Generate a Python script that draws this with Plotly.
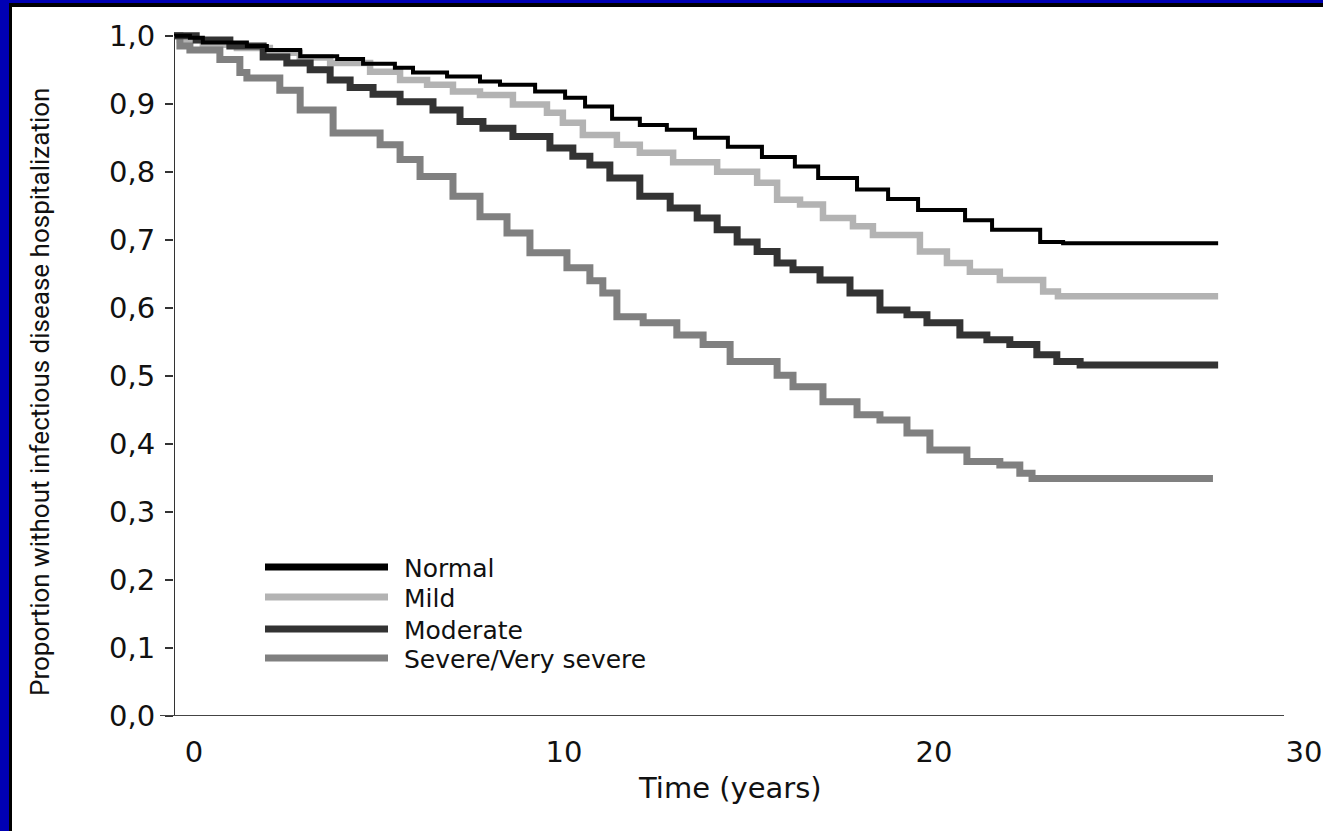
import plotly.graph_objects as go

# Kaplan-Meier style step curves: time (years) where each step begins, and survival after it
normal_t = [0, 0.43, 0.78, 1.97, 2.51, 3.41, 4.41, 5.11, 5.97, 6.46, 7.38, 8.27, 8.81, 9.76,
            10.57, 11.11, 11.84, 12.59, 13.32, 14.08, 14.97, 15.89, 16.78, 17.41, 18.46,
            19.30, 20.11, 21.38, 22.11, 23.41, 24.03, 28.22]
normal_s = [1.0, 0.997, 0.990, 0.985, 0.979, 0.970, 0.966, 0.959, 0.953, 0.946, 0.940, 0.933,
            0.928, 0.918, 0.909, 0.896, 0.878, 0.869, 0.862, 0.850, 0.837, 0.822, 0.808,
            0.791, 0.774, 0.760, 0.744, 0.729, 0.715, 0.697, 0.695, 0.695]

mild_t = [0, 0.16, 0.78, 1.70, 2.59, 3.40, 4.22, 5.30, 6.11, 6.84, 7.54, 8.27, 9.16, 10.08,
          10.51, 11.05, 11.97, 12.59, 13.49, 14.68, 15.76, 16.30, 16.92, 17.54, 18.35, 18.89,
          20.16, 20.89, 21.51, 22.32, 23.49, 23.89, 28.22]
mild_s = [1.0, 0.994, 0.987, 0.982, 0.975, 0.968, 0.960, 0.947, 0.935, 0.928, 0.918, 0.913,
          0.899, 0.887, 0.872, 0.854, 0.840, 0.828, 0.814, 0.800, 0.784, 0.759, 0.752, 0.732,
          0.720, 0.707, 0.683, 0.666, 0.653, 0.641, 0.624, 0.617, 0.617]

moderate_t = [0, 0.60, 1.51, 2.41, 3.05, 3.68, 4.22, 4.76, 5.38, 6.11, 7.00, 7.73, 8.35, 9.16,
              10.16, 10.78, 11.24, 11.78, 12.59, 13.41, 14.14, 14.68, 15.22, 15.76, 16.30,
              16.73, 17.46, 18.27, 19.08, 19.81, 20.35, 21.24, 21.97, 22.59, 23.32, 23.86,
              24.49, 28.22]
moderate_s = [1.0, 0.994, 0.985, 0.969, 0.960, 0.950, 0.935, 0.924, 0.914, 0.903, 0.891, 0.874,
              0.864, 0.852, 0.835, 0.823, 0.810, 0.791, 0.764, 0.747, 0.732, 0.715, 0.697,
              0.683, 0.666, 0.656, 0.641, 0.622, 0.597, 0.590, 0.578, 0.560, 0.553, 0.546,
              0.531, 0.521, 0.516, 0.516]

severe_t = [0, 0.16, 0.43, 1.24, 1.78, 1.97, 2.86, 3.41, 4.30, 5.57, 6.11, 6.65, 7.54, 8.27,
            9.00, 9.62, 10.62, 11.24, 11.59, 11.97, 12.68, 13.59, 14.30, 15.03, 16.30, 16.73,
            17.54, 18.46, 19.08, 19.81, 20.43, 21.43, 22.32, 22.86, 23.19, 28.08]
severe_s = [1.0, 0.985, 0.979, 0.965, 0.946, 0.938, 0.920, 0.891, 0.857, 0.840, 0.818, 0.793,
            0.764, 0.734, 0.710, 0.681, 0.659, 0.640, 0.622, 0.587, 0.578, 0.560, 0.546,
            0.521, 0.501, 0.484, 0.462, 0.443, 0.435, 0.416, 0.391, 0.374, 0.369, 0.357,
            0.349, 0.349]

groups = ["Normal", "Mild", "Moderate", "Severe/Very severe"]
colors = ["#000000", "#b3b3b3", "#333333", "#808080"]
widths = [4, 6.5, 7, 7]
series = [(normal_t, normal_s), (mild_t, mild_s), (moderate_t, moderate_s), (severe_t, severe_s)]

x_ticks = [0, 10, 20, 30]
y_ticks = [0.0, 0.1, 0.2, 0.3, 0.4, 0.5, 0.6, 0.7, 0.8, 0.9, 1.0]

W, H = 1323, 831
L, R, T, B = 174, 39, 29, 115
plot_w, plot_h = W - L - R, H - T - B


def px_x(px):
    return (px - L) / plot_w


def px_y(py):
    return (H - B - py) / plot_h


TEXT = "#111111"
TICK_FONT = dict(family="DejaVu Sans", size=29, color=TEXT)

fig = go.Figure()
# draw the lightest group first so darker curves sit on top where they overlap
order = [1, 3, 2, 0]
for i in order:
    t, s = series[i]
    fig.add_trace(go.Scatter(
        x=t, y=s, mode="lines", name=groups[i],
        line=dict(color=colors[i], width=widths[i], shape="hv"),
        showlegend=False, hoverinfo="skip",
    ))

shapes = []
# axis lines
shapes.append(dict(type="line", xref="x", yref="y", x0=0, x1=0, y0=0, y1=1.0,
                   line=dict(color="#333333", width=2)))
shapes.append(dict(type="line", xref="paper", yref="y", x0=px_x(160), x1=1.0, y0=0, y1=0,
                   line=dict(color="#444444", width=2)))
# small detached ticks below the time axis
for xv in x_ticks:
    shapes.append(dict(type="line", xref="x", yref="y", x0=xv, x1=xv, y0=-0.010, y1=-0.016,
                       line=dict(color="#444444", width=2)))

# key: line samples with labels
key_y = [567, 597, 629, 658]
annotations = []
for g, c, ky in zip(groups, colors, key_y):
    shapes.append(dict(type="line", xref="paper", yref="paper",
                       x0=px_x(265), x1=px_x(388), y0=px_y(ky), y1=px_y(ky),
                       line=dict(color=c, width=7)))
    annotations.append(dict(text=g, xref="paper", yref="paper", x=px_x(403), y=px_y(ky + 1),
                            xanchor="left", yanchor="middle", showarrow=False, borderpad=0,
                            font=dict(family="DejaVu Sans", size=25, color=TEXT)))

# frame strips along the left and top edges
shapes += [
    dict(type="rect", xref="paper", yref="paper", x0=px_x(0), x1=px_x(9), y0=px_y(H), y1=px_y(0),
         fillcolor="#0000b4", line=dict(width=0), layer="above"),
    dict(type="rect", xref="paper", yref="paper", x0=px_x(9), x1=px_x(12), y0=px_y(H), y1=px_y(0),
         fillcolor="#000000", line=dict(width=0), layer="above"),
    dict(type="rect", xref="paper", yref="paper", x0=px_x(0), x1=px_x(W), y0=px_y(3), y1=px_y(0),
         fillcolor="#0000b4", line=dict(width=0), layer="above"),
    dict(type="rect", xref="paper", yref="paper", x0=px_x(9), x1=px_x(W), y0=px_y(7), y1=px_y(3),
         fillcolor="#000000", line=dict(width=0), layer="above"),
]

annotations.append(dict(text="Time (years)", xref="paper", yref="paper",
                        x=px_x(730), y=px_y(788), xanchor="center", yanchor="middle",
                        showarrow=False, font=dict(family="DejaVu Sans", size=29, color=TEXT)))
annotations.append(dict(text="Proportion without infectious disease hospitalization",
                        xref="paper", yref="paper", x=px_x(40), y=px_y(392), textangle=-90,
                        xanchor="center", yanchor="middle", showarrow=False,
                        font=dict(family="Roboto, Liberation Sans, sans-serif",
                                  size=26, color=TEXT)))

fig.update_layout(
    width=W, height=H,
    margin=dict(l=L, r=R, t=T, b=B, pad=0, autoexpand=False),
    paper_bgcolor="white", plot_bgcolor="white",
    separators=",.",
    showlegend=False,
    shapes=shapes,
    annotations=annotations,
    xaxis=dict(range=[0, 30], tickvals=x_ticks, ticks="", showline=False, showgrid=False,
               zeroline=False, automargin=False, tickfont=TICK_FONT,
               ticklabelshift=20, ticklabelstandoff=16),
    yaxis=dict(range=[0, 1.01], tickvals=y_ticks, tickformat=".1f", ticks="outside",
               ticklen=8, tickwidth=2, tickcolor="#333333", showline=False, showgrid=False,
               zeroline=False, automargin=False, tickfont=TICK_FONT, ticklabelstandoff=4),
)

fig.write_html("out.html")
